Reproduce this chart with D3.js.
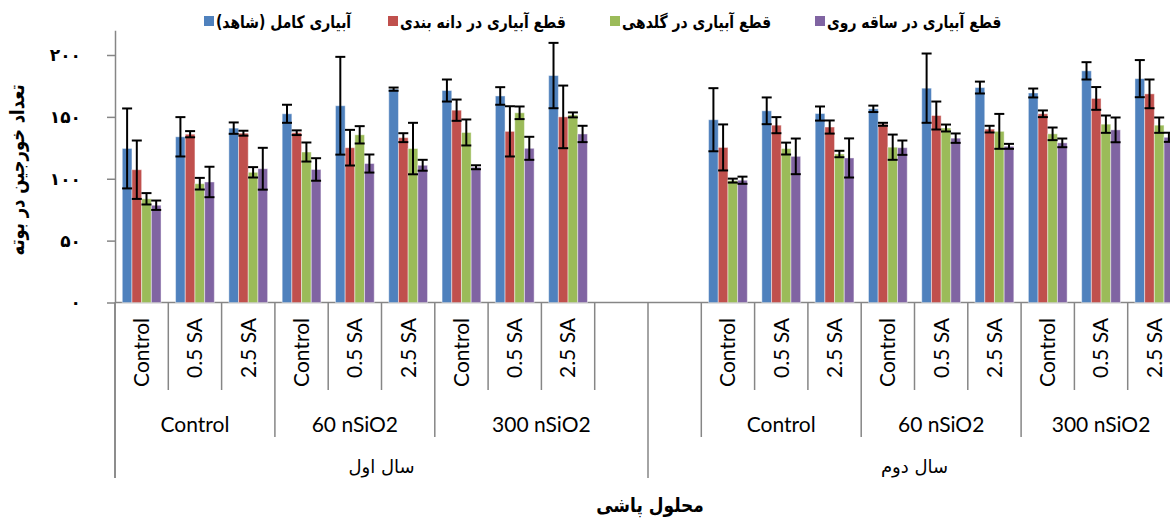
<!DOCTYPE html>
<html>
<head>
<meta charset="utf-8">
<script src="https://cdn.jsdelivr.net/npm/d3@7"></script>
<style>
  body { margin: 0; background: #fff; }
  svg { display: block; }
  .fa { font-family: "DejaVu Sans", sans-serif; }
  .lat { font-family: "Lato", "Open Sans", sans-serif; }
</style>
</head>
<body>
<div id="chart"></div>
<script>
var years = ["سال اول", "سال دوم"]
var groups = ["Control", "60 nSiO2", "300 nSiO2"]
var treatments = ["Control", "0.5 SA", "2.5 SA"]
var seriesNames = ["آبیاری کامل (شاهد)", "قطع آبیاری در دانه بندی", "قطع آبیاری در گلدهی", "قطع آبیاری در ساقه روی"]
var colors = ["#4F81BD", "#C0504D", "#9BBB59", "#8064A2"]
var yTicks = [0, 50, 100, 150, 200]

// 18 values per series: year 1 (Control, 60, 300 x Control, 0.5 SA, 2.5 SA), then year 2
var fullIrr = [124.5, 133.9, 140.9, 152.5, 159, 172.4, 171.3, 166.9, 183.4, 147.7, 154.9, 152.7, 156.5, 173.2, 173.7, 169.3, 187.2, 180.9]
var fullIrrErr = [32.3, 15.9, 4.6, 7.3, 39.5, 1.3, 8.9, 7.1, 26.4, 25.5, 10.8, 5.7, 2.6, 28, 4.8, 3.6, 7, 15]
var grainCut = [107.3, 136, 136.8, 137.2, 125.1, 133.2, 155.4, 138.3, 150, 125.3, 143.3, 141.8, 144, 151.1, 140.1, 152.5, 164.9, 168.6]
var grainCutErr = [23.6, 2.5, 2, 1.9, 14.4, 3.6, 8.6, 20.3, 25.3, 18.6, 6.5, 5.3, 1.2, 11.3, 2.7, 2.7, 9.2, 11.6]
var flowerCut = [83.8, 96, 105.2, 121.6, 135.5, 124.4, 137.4, 153.3, 151.6, 98.5, 124.4, 120, 125.5, 141, 138.3, 136.3, 144.1, 143.3]
var flowerCutErr = [4.6, 4.7, 4.2, 7.7, 7, 20.8, 10.5, 5.1, 2, 1.6, 4.8, 2.6, 10.2, 2.8, 14.1, 5.1, 7, 6.2]
var stemCut = [78.6, 97.4, 108.1, 107.5, 112.3, 110.9, 109.3, 124.6, 136.2, 98.8, 118.1, 116.8, 125.1, 132.8, 126.2, 129, 139.5, 133.5]
var stemCutErr = [3.8, 12.3, 16.9, 9.1, 7.3, 4.4, 1.6, 9.3, 6.6, 2.9, 14.4, 15.8, 5.8, 3.8, 2, 3.5, 10, 3.7]

var seriesVals = [fullIrr, grainCut, flowerCut, stemCut]
var seriesErrs = [fullIrrErr, grainCutErr, flowerCutErr, stemCutErr]

function toFa(n) {
  return String(n).replace(/[0-9]/g, function (c) { return "۰۱۲۳۴۵۶۷۸۹"[+c] })
}

// build the category slots (one blank slot after year 1, one before the year 2 data)
var slots = []
var k = 0
years.forEach(function (yr, yi) {
  if (yi == 1) slots.push({ key: "b1", year: yr, group: "", label: "", idx: -1 })
  groups.forEach(function (g) {
    treatments.forEach(function (t) {
      slots.push({ key: "s" + k, year: yr, group: g, label: t, idx: k })
      k++
    })
  })
  if (yi == 0) slots.push({ key: "b0", year: yr, group: groups[2], label: "", idx: -1 })
})

var width = 1170, height = 520
var plotLeft = 115, slotW = 53.3
var y0 = 302.5

var svg = d3.select("#chart").append("svg")
  .attr("width", width)
  .attr("height", height)

var x = d3.scaleBand()
  .domain(slots.map(function (d) { return d.key }))
  .range([plotLeft, plotLeft + slotW * slots.length])
  .paddingInner(0).paddingOuter(0)

var xs = d3.scaleBand()
  .domain(d3.range(seriesNames.length))
  .range([0, x.bandwidth()])
  .paddingInner(0).paddingOuter(0.75)

var y = d3.scaleLinear()
  .domain([0, 220])
  .range([y0, y0 - 220 * 1.2375])

// y axis
var yAxis = svg.append("g")
  .attr("transform", "translate(" + plotLeft + ",0)")
  .call(d3.axisLeft(y).tickValues(yTicks).tickSize(8).tickSizeOuter(0).tickPadding(26)
    .tickFormat(function (d) { return toFa(d) }))
yAxis.select(".domain").attr("stroke", "#868686").attr("stroke-width", 1.5)
yAxis.selectAll(".tick line").attr("stroke", "#868686").attr("stroke-width", 1.5)
yAxis.selectAll(".tick text")
  .attr("class", "fa")
  .style("font-size", "17px")
  .style("font-weight", "bold")
  .style("letter-spacing", "5px")
  .attr("fill", "#000")

svg.append("line")
  .attr("x1", plotLeft).attr("x2", plotLeft)
  .attr("y1", y0).attr("y2", 478)
  .attr("stroke", "#868686").attr("stroke-width", 1.5)

// x axis line
svg.append("line")
  .attr("x1", plotLeft).attr("x2", x.range()[1])
  .attr("y1", y0).attr("y2", y0)
  .attr("stroke", "#868686").attr("stroke-width", 1.5)

// category separators
slots.forEach(function (s, i) {
  var len = 390
  if (i == 0 || slots[i - 1].year != s.year) len = 478
  else if (slots[i - 1].group != s.group) len = 437
  svg.append("line")
    .attr("x1", x(s.key)).attr("x2", x(s.key))
    .attr("y1", y0).attr("y2", len)
    .attr("stroke", "#868686").attr("stroke-width", 1.5)
})

// slot labels
svg.selectAll(".slotLabel")
  .data(slots.filter(function (d) { return d.label != "" }))
  .enter().append("text")
  .attr("class", "lat")
  .attr("text-anchor", "end")
  .attr("dy", "0.35em")
  .attr("transform", function (d) {
    return "translate(" + (x(d.key) + x.bandwidth() / 2) + ",318) rotate(-90)"
  })
  .style("font-size", "21px")
  .text(function (d) { return d.label })

// subgroup labels
var runs = []
slots.forEach(function (s) {
  var last = runs[runs.length - 1]
  if (last && last.year == s.year && last.group == s.group) last.keys.push(s.key)
  else runs.push({ year: s.year, group: s.group, keys: [s.key] })
})
runs.filter(function (r) { return r.group != "" }).forEach(function (r) {
  var cx = (x(r.keys[0]) + x(r.keys[r.keys.length - 1]) + x.bandwidth()) / 2
  svg.append("text")
    .attr("class", "lat")
    .attr("text-anchor", "middle")
    .attr("x", cx).attr("y", 432)
    .style("font-size", "21px")
    .text(r.group)
})

// year labels
years.forEach(function (yr) {
  var ks = slots.filter(function (s) { return s.year == yr })
  var cx = (x(ks[0].key) + x(ks[ks.length - 1].key) + x.bandwidth()) / 2
  svg.append("text")
    .attr("class", "fa")
    .attr("direction", "rtl")
    .attr("text-anchor", "middle")
    .attr("x", cx).attr("y", 473)
    .style("font-size", "18px")
    .text(yr)
})

// bars
var dataSlots = slots.filter(function (d) { return d.idx >= 0 })
seriesNames.forEach(function (name, si) {
  var g = svg.append("g")
  g.selectAll("rect")
    .data(dataSlots)
    .enter().append("rect")
    .attr("x", function (d) { return x(d.key) + xs(si) })
    .attr("y", function (d) { return y(seriesVals[si][d.idx]) })
    .attr("width", xs.bandwidth())
    .attr("height", function (d) { return y0 - y(seriesVals[si][d.idx]) })
    .attr("fill", colors[si])
    .attr("stroke", "rgba(255,255,255,0.45)")
    .attr("stroke-width", 1)
})

// error bars
seriesNames.forEach(function (name, si) {
  var g = svg.append("g").attr("stroke", "#000").attr("stroke-width", 2)
  dataSlots.forEach(function (d) {
    var cx = x(d.key) + xs(si) + xs.bandwidth() / 2
    var v = seriesVals[si][d.idx], e = seriesErrs[si][d.idx]
    g.append("line").attr("x1", cx).attr("x2", cx).attr("y1", y(v + e)).attr("y2", y(v - e))
    g.append("line").attr("x1", cx - 5).attr("x2", cx + 5).attr("y1", y(v + e)).attr("y2", y(v + e))
    g.append("line").attr("x1", cx - 5).attr("x2", cx + 5).attr("y1", y(v - e)).attr("y2", y(v - e))
  })
})

// legend
var legendX = [204, 388, 610, 815]
seriesNames.forEach(function (name, si) {
  svg.append("rect")
    .attr("x", legendX[si]).attr("y", 16)
    .attr("width", 10).attr("height", 10)
    .attr("fill", colors[si])
  svg.append("text")
    .attr("class", "fa")
    .attr("direction", "rtl")
    .attr("text-anchor", "end")
    .attr("transform", "translate(" + (legendX[si] + 12) + ",28) scale(0.82,1)")
    .style("font-size", "17px")
    .style("font-weight", "bold")
    .text(name)
})

// axis titles
svg.append("text")
  .attr("class", "fa")
  .attr("direction", "rtl")
  .attr("text-anchor", "middle")
  .attr("transform", "translate(24,170) rotate(-90) scale(0.82,1)")
  .style("font-size", "20px")
  .style("font-weight", "bold")
  .text("تعداد خورجین در بوته")

svg.append("text")
  .attr("class", "fa")
  .attr("direction", "rtl")
  .attr("text-anchor", "middle")
  .attr("transform", "translate(650,512) scale(0.85,1)")
  .style("font-size", "20px")
  .style("font-weight", "bold")
  .text("محلول پاشی")
</script>
</body>
</html>
